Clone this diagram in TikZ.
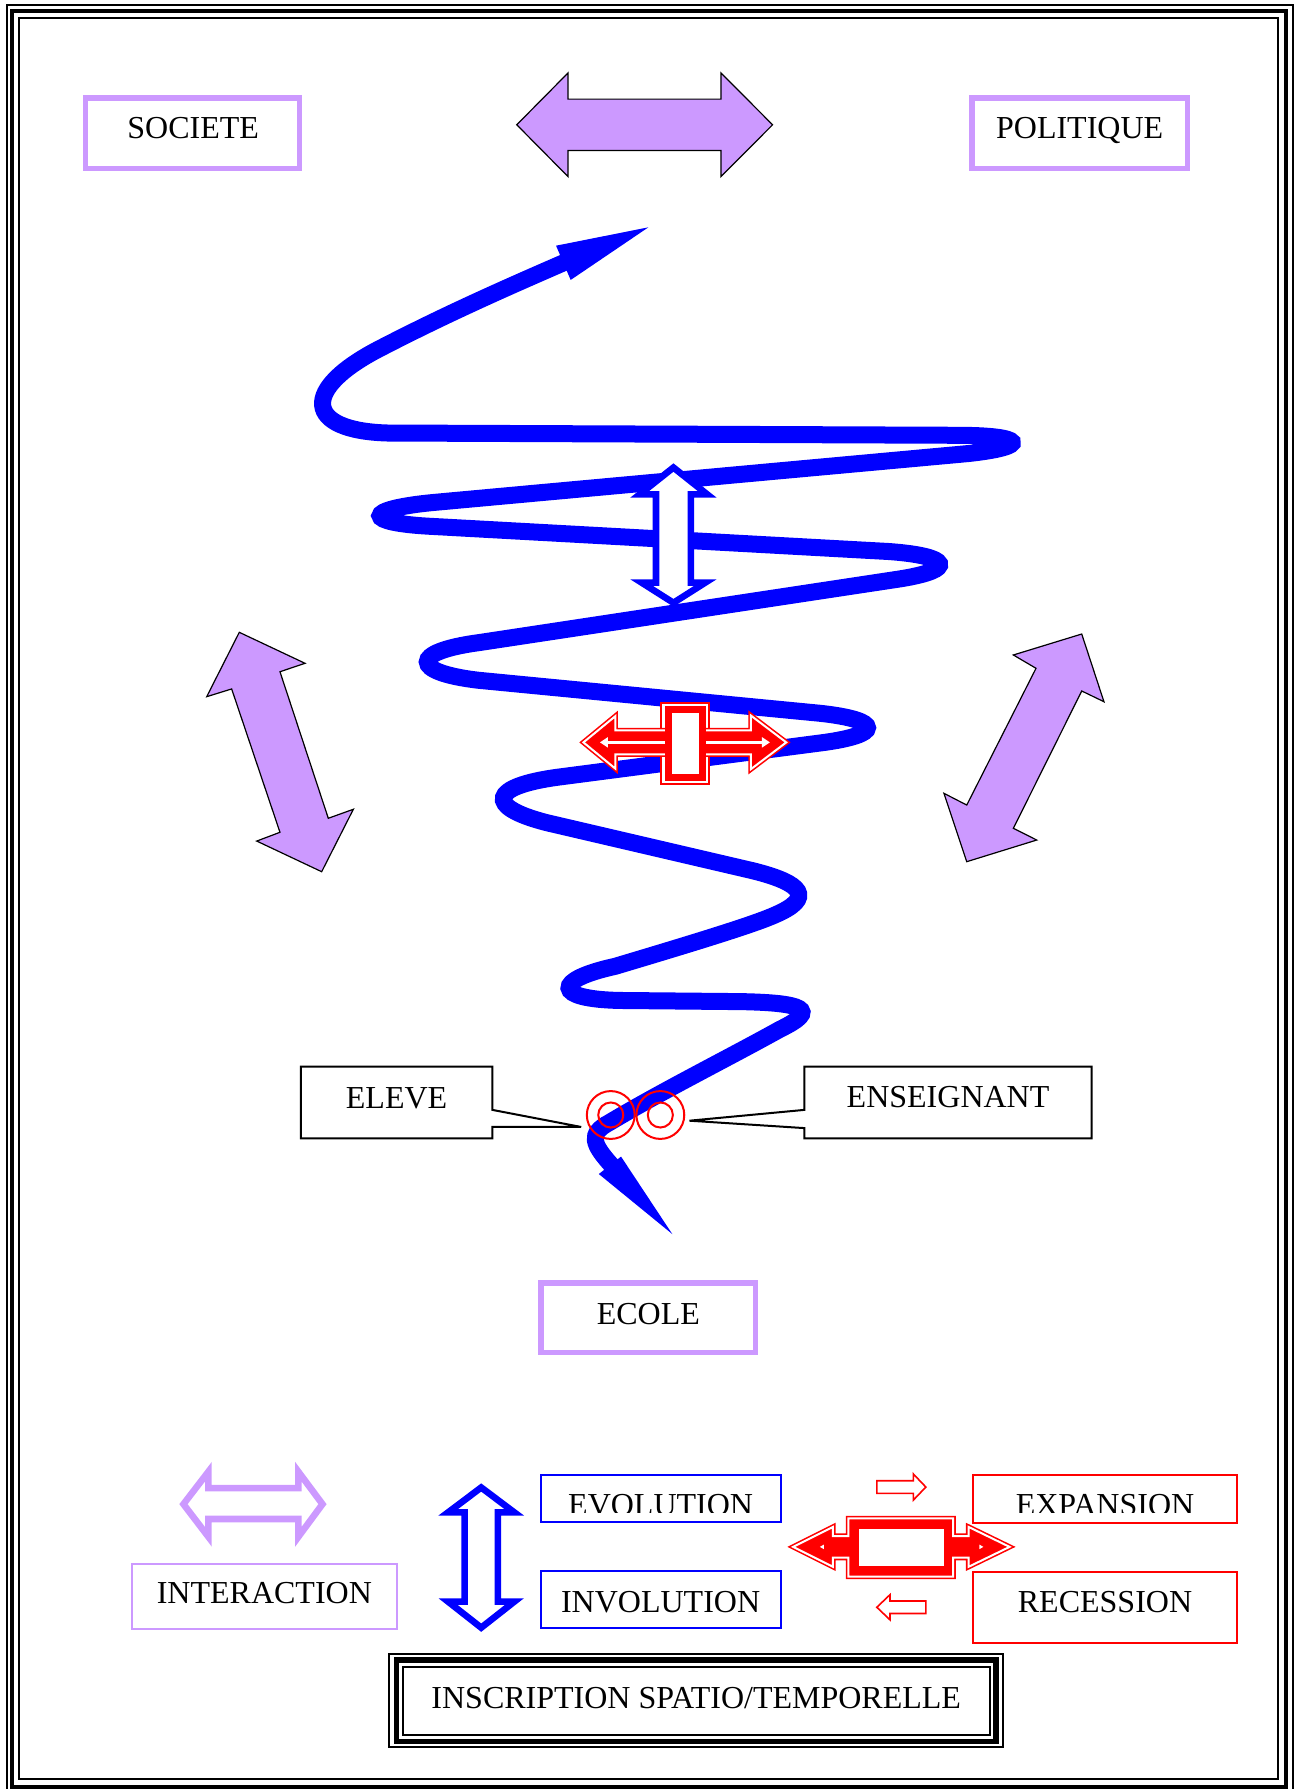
\documentclass[tikz,border=0pt]{standalone}
\usepackage{fontspec}
\setmainfont{Liberation Serif}
\usetikzlibrary{arrows.meta}
\definecolor{lav}{HTML}{CC99FF}
\begin{document}
\begin{tikzpicture}[x=0.5697pt,y=-0.5697pt,
 lbl/.style={anchor=base,inner sep=0pt,font=\fontsize{16}{19.2}\selectfont},
 lavbox/.style={draw=lav,line width=2.8pt},
 thinbox/.style={line width=1pt},
 purplearrow/.style={fill=lav,draw=black,line width=0.6pt,line join=miter},
 hollow/.style={fill=white,line width=3.3pt,line join=miter,miter limit=20},
 redcompound/.style={draw=red,fill=red,line width=0.8pt,double=white,double distance=1pt,line join=miter,miter limit=20},
 spiral/.style={draw=blue,line width=8.5pt,line cap=butt},
 ring/.style={draw=red,line width=1pt},
 callout/.style={draw=black,fill=white,line width=1pt,line join=miter}
]
\useasboundingbox (0,0) rectangle (1140,1570);
% page frame
\draw[line width=1pt] (6.1,4.4) rectangle (1134.3,1574);
\draw[line width=2pt] (10.5,9.7) rectangle (1128.4,1568.2);
\draw[line width=1pt] (16.7,15.8) rectangle (1121.1,1561.2);

% top boxes
\draw[lavbox] (75,86) rectangle (263,148);
\node[lbl] (soc) at (169.5,121.5) {SOCIETE};
\draw[lavbox] (853,86) rectangle (1042,148);
\node[lbl] (pol) at (947.5,121.5) {POLITIQUE};

% purple arrows
\draw[purplearrow] (453.5,109.5) -- (498.5,64) -- (498.5,87) -- (632.7,87) -- (632.7,64) -- (678,109.5) -- (632.7,155) -- (632.7,132) -- (498.5,132) -- (498.5,155) -- cycle;
\draw[purplearrow] (210,554.9) -- (267.7,582.1) -- (245.7,589.5) -- (288.1,718.1) -- (310.1,710.2) -- (282.3,765) -- (225.3,738.1) -- (245.7,730.4) -- (203.3,604.6) -- (181.4,611.4) -- cycle;
\draw[purplearrow] (949.3,556.4) -- (968.8,615.8) -- (949.3,606.4) -- (889.3,726.9) -- (909.8,737.2) -- (848.4,756.2) -- (828.4,696.2) -- (848.4,706.5) -- (909.2,586.5) -- (889.3,574.8) -- cycle;

% spiral
\draw[spiral] (537,1023)
 .. controls (520,1004) and (516,995) .. (535,985)
 .. controls (580,958) and (640,928) .. (685,903)
 .. controls (720,886) and (705,880) .. (650,879)
 -- (545,878)
 .. controls (485,877) and (485,860) .. (540,848)
 .. controls (600,830) and (660,812) .. (680,803)
 .. controls (715,788) and (705,775) .. (660,764)
 -- (480,722)
 .. controls (425,708) and (430,690) .. (490,682)
 -- (720,652)
 .. controls (775,645) and (775,632) .. (720,626)
 -- (420,597)
 .. controls (360,590) and (360,572) .. (420,564)
 -- (790,508)
 .. controls (840,500) and (835,488) .. (780,484)
 -- (380,462)
 .. controls (318,459) and (318,447) .. (380,441)
 -- (850,398)
 .. controls (905,392) and (900,382) .. (840,382)
 -- (340,380)
 .. controls (268,378) and (262,342) .. (335,305)
 .. controls (395,274) and (450,250) .. (496,230);
\fill[blue] (488,215.6) -- (569,199.5) -- (500.8,245.7) -- cycle;
\fill[blue] (525.5,1030.3) -- (590,1083) -- (545,1015) -- cycle;

% blue white double arrow
\draw[hollow,draw=blue] (591,410.3) -- (620.7,433.9) -- (606.3,433.9) -- (606.3,511.3) -- (618.9,511.3) -- (591,529) -- (563.1,511.3) -- (575.7,511.3) -- (575.7,433.9) -- (561.3,433.9) -- cycle;

% red cross
\draw[red,line width=1pt,fill=white] (580,616.5) rectangle (622.3,688.3);
\draw[redcompound] (512,651.5) -- (540,628.5) -- (540,641) -- (659,641) -- (659,628) -- (690,651.5) -- (659,675) -- (659,662) -- (540,662) -- (540,674.5) -- cycle;
\draw[white,line width=1.6pt,{Triangle[width=5pt,length=4pt]}-{Triangle[width=5pt,length=4pt]}] (526.5,651.5) -- (675.7,651.5);
\draw[red,line width=3.4pt,fill=white] (586.5,622.4) rectangle (616.5,682);

% callouts
\draw[callout] (264,936) -- (432,936) -- (432,974) -- (510,989) -- (432,989) -- (432,999) -- (264,999) -- cycle;
\node[lbl] (eleve) at (348,972.5) {ELEVE};
\draw[callout] (706,936) -- (958,936) -- (958,999) -- (706,999) -- (706,990) -- (605,983.5) -- (706,974) -- cycle;
\node[lbl] (ens) at (832,972) {ENSEIGNANT};

% rings
\draw[ring] (536,978.5) circle[radius=21];
\draw[ring] (536,978.5) circle[radius=11];
\draw[ring] (579.5,978.5) circle[radius=21];
\draw[ring] (579.5,978.5) circle[radius=11];

% ECOLE
\draw[lavbox] (475,1126) rectangle (663,1187);
\node[lbl] (ecole) at (569,1162) {ECOLE};

% legend: interaction
\draw[hollow,draw=lav] (161,1320) -- (182.9,1291.5) -- (182.9,1306) -- (261.8,1306) -- (261.8,1291.5) -- (283,1320) -- (261.8,1348.7) -- (261.8,1333) -- (182.9,1333) -- (182.9,1348.7) -- cycle;
\draw[draw=lav,line width=1pt] (116,1372.5) rectangle (348,1429.5);
\node[lbl] (inter) at (232,1407) {INTERACTION};

% legend: evolution / involution
\draw[hollow,draw=blue] (422.3,1305.4) -- (451.3,1327.2) -- (436.9,1327.2) -- (436.9,1405.6) -- (451.3,1405.6) -- (422.3,1428.4) -- (393.3,1405.6) -- (407.7,1405.6) -- (407.7,1327.2) -- (393.3,1327.2) -- cycle;
\begin{scope}
\clip (474.5,1294.5) rectangle (685,1327);
\node[lbl] (evo) at (579.75,1330) {EVOLUTION};
\end{scope}
\draw[draw=blue,line width=1pt] (474.5,1294.5) rectangle (685,1336);
\draw[draw=blue,line width=1pt] (474.5,1379) rectangle (685,1429);
\node[lbl] (invo) at (579.75,1415) {INVOLUTION};

% legend: expansion / recession
\draw[red,line width=0.8pt,fill=white,line join=miter] (769.5,1299.5) -- (801.5,1299.5) -- (801.5,1293.5) -- (812.5,1305) -- (801.5,1316.5) -- (801.5,1310.5) -- (769.5,1310.5) -- cycle;
\draw[red,line width=0.8pt,fill=white,line join=miter] (769.5,1410.5) -- (781,1399.5) -- (781,1405) -- (812.5,1405) -- (812.5,1416) -- (781,1416) -- (781,1421.5) -- cycle;
\draw[redcompound] (696,1357.5) -- (731,1340) -- (731,1348) -- (744.5,1348) -- (744.5,1332.5) -- (836.5,1332.5) -- (836.5,1348) -- (850,1348) -- (850,1340) -- (886,1357.5) -- (850,1375) -- (850,1367) -- (836.5,1367) -- (836.5,1383.5) -- (744.5,1383.5) -- (744.5,1367) -- (731,1367) -- (731,1375) -- cycle;
\fill[white] (754,1342) rectangle (828,1374);
\fill[white] (719.5,1357.5) -- (723,1355.5) -- (723,1359.5) -- cycle;
\fill[white] (863,1357.5) -- (859.5,1355.5) -- (859.5,1359.5) -- cycle;
\begin{scope}
\clip (853.6,1294.5) rectangle (1085.9,1327);
\node[lbl] (exp) at (969.75,1330) {EXPANSION};
\end{scope}
\draw[red,line width=1pt] (853.6,1294.5) rectangle (1085.9,1336.2);
\draw[red,line width=1pt] (853.6,1379.3) rectangle (1085.9,1442);
\node[lbl] (rec) at (969.75,1415) {RECESSION};

% inscription
\draw[line width=1pt] (341.4,1451.3) rectangle (880,1533.4);
\draw[line width=2.6pt] (348.1,1456.8) rectangle (874,1528.5);
\draw[line width=1pt] (354.1,1463) rectangle (869,1522.6);
\node[lbl] (insc) at (611,1499) {INSCRIPTION SPATIO/TEMPORELLE};
\end{tikzpicture}
\end{document}
